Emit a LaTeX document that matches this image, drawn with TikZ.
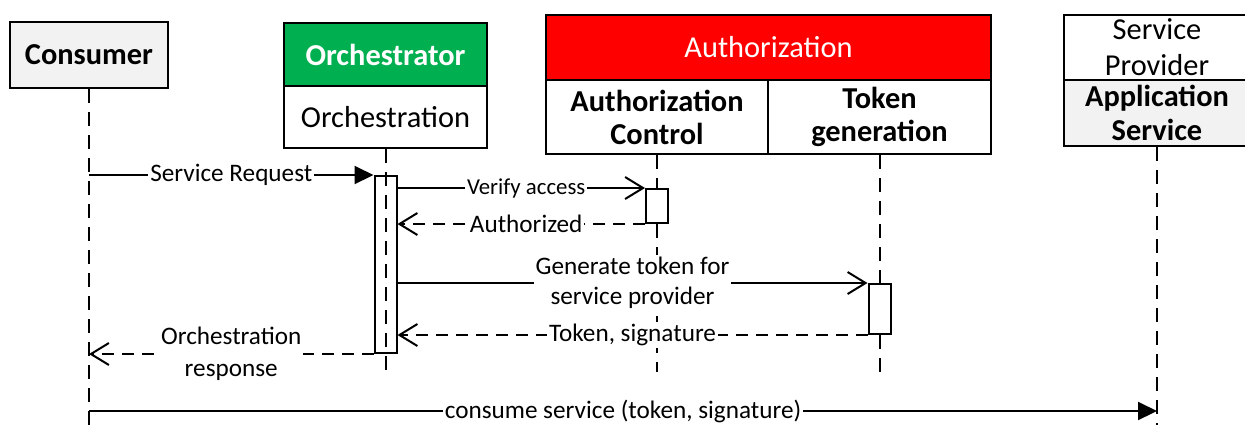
\documentclass[tikz,border=0pt]{standalone}
\usepackage{fontspec}
\setmainfont{Carlito}
\usetikzlibrary{arrows.meta}
\definecolor{orchgreen}{HTML}{00B050}
\definecolor{authred}{HTML}{FF0000}
\definecolor{paleGrey}{HTML}{F2F2F2}

\begin{document}
\begin{tikzpicture}[x=0.5pt,y=-0.5pt,
  headfont/.style={font=\fontsize{15.2}{17.5}\selectfont},
  box/.style={draw=black, line width=1.1pt, inner sep=0pt, align=center, headfont},
  lifeline/.style={line width=1pt, dash pattern=on 7pt off 4.5pt},
  actbar/.style={draw=black, line width=1pt, inner sep=0pt, minimum width=11pt},
  call/.style={line width=1pt},
  reply/.style={line width=1pt, dash pattern=on 6pt off 4pt},
  filledtip/.style={-{Triangle[length=9.5pt,width=9pt]}},
  opentip/.style={-{Straight Barb[length=9pt,width=11pt,line width=1pt]}},
  msglabel/.style={fill=white, inner sep=1pt, align=center,
    font=\fontsize{12.6}{15}\selectfont},
  smalllabel/.style={msglabel, font=\fontsize{11.4}{14}\selectfont},
]
\fill[white] (0,0) rectangle (1245,425);
\useasboundingbox (0,0) rectangle (1245,425);

% participant headers
\node[box, fill=paleGrey, minimum width=79pt, minimum height=33pt, font=\fontsize{15.2}{17.5}\selectfont\bfseries]
  (consumer) at (89,55) {Consumer};
\node[box, fill=orchgreen, text=white, minimum width=101.5pt, minimum height=31.5pt, font=\fontsize{15.2}{17.5}\selectfont\bfseries]
  (orchestrator) at (385.5,54.5) {Orchestrator};
\node[box, fill=white, minimum width=101.5pt, minimum height=31pt]
  (orchestration) at (385.5,117) {Orchestration};
\node[box, fill=authred, text=white, minimum width=222.5pt, minimum height=32.5pt]
  (authorization) at (768.5,47.5) {Authorization};
\node[box, fill=white, minimum width=111pt, minimum height=37pt, font=\fontsize{15.2}{16.5}\selectfont\bfseries]
  (authctrl) at (657,117) {Authorization\\Control};
\node[box, fill=white, minimum width=111.5pt, minimum height=37pt, font=\fontsize{15.2}{16.5}\selectfont\bfseries]
  (tokengen) at (879.5,117) {Token\\generation};
\node[box, fill=white, minimum width=93pt, minimum height=32.5pt, font=\fontsize{15.2}{18}\selectfont]
  (provider) at (1157,47.5) {Service\\Provider};
\node[box, fill=paleGrey, minimum width=93pt, minimum height=33pt, font=\fontsize{15.2}{17}\selectfont\bfseries]
  (appservice) at (1157,113) {Application\\Service};

% lifeline ends
\coordinate (consumer-end) at (89,425);
\coordinate (orch-end) at (385.5,378);
\coordinate (authctrl-end) at (657,372);
\coordinate (tokengen-end) at (879.5,372);
\coordinate (appservice-end) at (1157,425);

% activation bars
\node[actbar, minimum height=88.5pt, anchor=north] (orchbar) at (385.5,175) {};
\node[actbar, fill=white, minimum height=17pt, anchor=north] (acbar) at (657,188) {};
\node[actbar, fill=white, minimum height=25pt, anchor=north] (tgbar) at (879.5,283) {};

% lifelines
\draw[lifeline] (consumer.south) -- (consumer-end);
\draw[lifeline] (orchestration.south) -- (orch-end);
\draw[lifeline] (authctrl.south) -- (acbar.north);
\draw[lifeline] (acbar.south) -- (authctrl-end);
\draw[lifeline] (tokengen.south) -- (tgbar.north);
\draw[lifeline] (tgbar.south) -- (tokengen-end);
\draw[lifeline] (appservice.south) -- (appservice-end);

% messages
\draw[call, filledtip] (consumer.south |- orchbar.north west) -- (orchbar.north west)
  node[msglabel, midway] {Service Request};
\draw[call, opentip] (orchbar.east |- acbar.north west) -- (acbar.north west)
  node[smalllabel, pos=0.52] {Verify access};
\draw[reply, opentip] (acbar.south west) -- (orchbar.east |- acbar.south west)
  node[msglabel, pos=0.48] {Authorized};
\draw[call, opentip] (orchbar.east |- tgbar.north west) -- (tgbar.north west)
  node[msglabel, midway] {Generate token for\\service provider};
\draw[reply, opentip] (tgbar.south west) -- (orchbar.east |- tgbar.south west)
  node[msglabel, midway] {Token, signature};
\draw[reply, opentip] (orchbar.south west) -- (consumer.south |- orchbar.south west)
  node[msglabel, midway, font=\fontsize{12.6}{16}\selectfont] {Orchestration\\response};
\coordinate (consume-start) at (89,411);
\draw[call, filledtip] (consume-start) -- (appservice-end |- consume-start)
  node[msglabel, midway] {consume service (token, signature)};
\end{tikzpicture}
\end{document}
